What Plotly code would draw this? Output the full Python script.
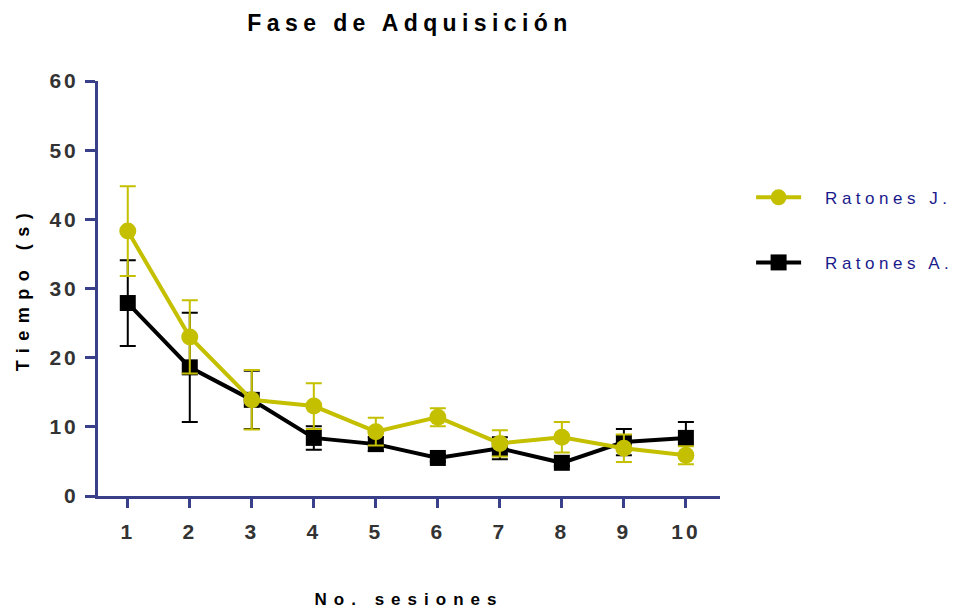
import plotly.graph_objects as go

sessions = [1, 2, 3, 4, 5, 6, 7, 8, 9, 10]
ratones_j = [38.3, 23.0, 13.9, 13.0, 9.3, 11.4, 7.6, 8.5, 6.9, 5.9]
ratones_j_err = [6.5, 5.3, 4.3, 3.3, 2.0, 1.3, 1.9, 2.2, 2.0, 1.3]
ratones_a = [27.9, 18.6, 13.9, 8.4, 7.5, 5.5, 6.9, 4.8, 7.8, 8.4]
ratones_a_err = [6.2, 7.9, 4.2, 1.7, 1.0, 0.5, 1.6, 0.5, 1.9, 2.3]
y_ticks = [0, 10, 20, 30, 40, 50, 60]

YELLOW = "#c4c000"
AXIS = "#3a3f8a"
FONT = "Arial, Liberation Sans, sans-serif"

fig = go.Figure()
fig.add_trace(go.Scatter(
    x=sessions, y=ratones_a, name="Ratones A.", mode="lines+markers",
    line=dict(color="black", width=4),
    marker=dict(symbol="square", size=16, color="black"),
    error_y=dict(type="data", array=ratones_a_err, color="black", thickness=2, width=8),
    legendgroup="a", legendrank=2,
))
fig.add_trace(go.Scatter(
    x=sessions, y=ratones_j, name="Ratones J.", mode="lines+markers",
    line=dict(color=YELLOW, width=4),
    marker=dict(symbol="circle", size=17, color=YELLOW),
    error_y=dict(type="data", array=ratones_j_err, color=YELLOW, thickness=2, width=8),
    legendgroup="j", legendrank=1,
))

fig.update_layout(
    width=958, height=609,
    paper_bgcolor="white", plot_bgcolor="white",
    margin=dict(l=98, r=238, t=81, b=113, autoexpand=False),
    font=dict(family=FONT),
    title=dict(text="<b>Fase de Adquisición</b>", x=0.428, xanchor="center",
               y=0.963, yanchor="middle", font=dict(size=23, color="black")),
    showlegend=True,
    legend=dict(x=1.05, xanchor="left", y=0.762, yanchor="top",
                font=dict(size=17, color="#1a1a8c"),
                tracegroupgap=40, traceorder="grouped", itemwidth=45,
                bgcolor="rgba(0,0,0,0)"),
)
fig.update_xaxes(
    range=[0.52, 10.55], tickvals=sessions, ticktext=[str(s) for s in sessions],
    showgrid=False, zeroline=False, showline=True, linecolor=AXIS, linewidth=3,
    ticks="outside", ticklen=9, tickwidth=3, tickcolor=AXIS,
    tickfont=dict(size=21, color="#333333", family=FONT, weight="bold"),
    ticklabelstandoff=6, automargin=False,
    title=dict(text="<b>No. sesiones</b>", font=dict(size=17, color="black"), standoff=52),
)
fig.update_yaxes(
    range=[0, 60], tickvals=y_ticks, ticktext=[str(v) for v in y_ticks],
    showgrid=False, zeroline=False, showline=True, linecolor=AXIS, linewidth=3,
    ticks="outside", ticklen=10, tickwidth=3, tickcolor=AXIS,
    tickfont=dict(size=21, color="#333333", family=FONT, weight="bold"),
    ticklabelstandoff=2, automargin=False,
    title=dict(text="<b>Tiempo (s)</b>", font=dict(size=18, color="black"), standoff=22),
)

post = """
document.body.style.margin = '0';
var st = document.createElement('style');
st.textContent = '.gtitle{letter-spacing:5.4px;} .xtitle{letter-spacing:7px;} .ytitle{letter-spacing:7.5px;} '
  + '.xtick text,.ytick text{letter-spacing:3px;} '
  + '.legendtext{letter-spacing:4.5px; transform:translateX(19px);} '
  + '.legend .scrollbox{clip-path:none !important;}';
document.head.appendChild(st);
"""

fig.write_html("out.html", post_script=post, config={"displayModeBar": False})
